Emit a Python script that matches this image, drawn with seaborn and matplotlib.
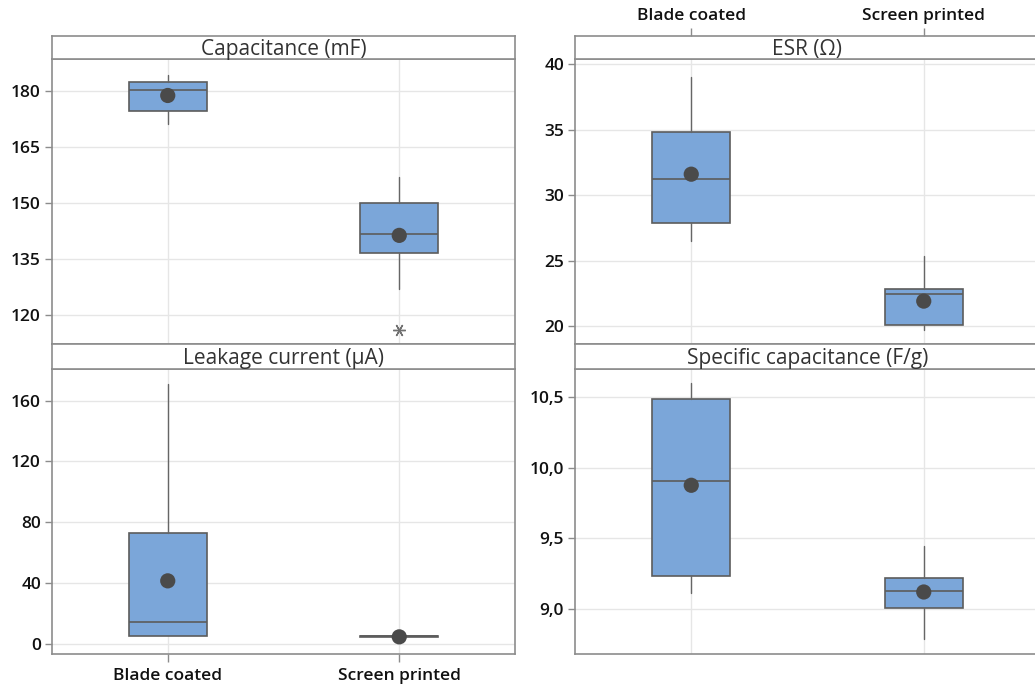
import matplotlib
matplotlib.use("Agg")
import matplotlib.pyplot as plt
import seaborn as sns
from matplotlib.ticker import FuncFormatter

sns.set_theme(style="white")
plt.rcParams["font.family"] = ["Open Sans", "DejaVu Sans"]

groups = ["Blade coated", "Screen printed"]

# Capacitance (mF)
cap_lo = [171.3, 127.0]
cap_q1 = [174.7, 136.8]
cap_med = [180.4, 141.8]
cap_q3 = [182.5, 150.0]
cap_hi = [184.5, 157.0]
cap_mean = [178.9, 141.4]
cap_out = [[], [116.0]]

# ESR (ohm)
esr_lo = [26.5, 19.7]
esr_q1 = [27.9, 20.1]
esr_med = [31.2, 22.45]
esr_q3 = [34.8, 22.86]
esr_hi = [39.0, 25.35]
esr_mean = [31.6, 21.9]
esr_out = [[], []]

# Leakage current (uA)
leak_lo = [5.0, 4.3]
leak_q1 = [5.0, 4.5]
leak_med = [13.9, 4.8]
leak_q3 = [72.9, 5.0]
leak_hi = [171.2, 5.1]
leak_mean = [41.3, 4.4]
leak_out = [[], []]

# Specific capacitance (F/g)
spec_lo = [9.11, 8.785]
spec_q1 = [9.235, 9.007]
spec_med = [9.905, 9.13]
spec_q3 = [10.49, 9.216]
spec_hi = [10.60, 9.448]
spec_mean = [9.877, 9.12]
spec_out = [[], []]

FILL = "#7BA6D9"
EDGE = "#5C5C5C"
DOT = "#4A4A4A"
GRID = "#E6E6E6"
FRAME = "#8C8C8C"
TXT = "#111111"
STRIP_TXT = "#333333"
WEIGHT = "semibold"

W, H = 1035, 684
fig = plt.figure(figsize=(W / 100, H / 100), dpi=100)


def px_box(x0, y0, x1, y1):
    return [x0 / W, 1 - y1 / H, (x1 - x0) / W, (y1 - y0) / H]


def panel(rect_data, rect_strip, title, lo, q1, med, q3, hi, mean, out,
          ylim, yticks, fmt=None, bottom_labels=False, top_labels=False):
    ax = fig.add_axes(rect_data)
    stats = []
    for i, g in enumerate(groups):
        stats.append(dict(label=g, whislo=lo[i], q1=q1[i], med=med[i],
                          q3=q3[i], whishi=hi[i], fliers=out[i], mean=mean[i]))
    ax.bxp(stats, positions=[0, 1], widths=0.335, patch_artist=True,
           showcaps=False, showfliers=True, showmeans=False,
           boxprops=dict(facecolor=FILL, edgecolor=EDGE, linewidth=1.2),
           medianprops=dict(color=EDGE, linewidth=1.2),
           whiskerprops=dict(color="#666666", linewidth=1.0),
           flierprops=dict(marker=(6, 2, 90), markersize=9,
                           markeredgecolor="#707070", markeredgewidth=1.0,
                           linestyle="none"),
           zorder=3)
    sns.scatterplot(x=[0, 1], y=mean, ax=ax, s=120, color=DOT,
                    edgecolor="none", zorder=5, legend=False)
    ax.set_xlim(-0.5, 1.5)
    ax.set_ylim(*ylim)
    ax.set_yticks(yticks)
    if fmt is not None:
        ax.yaxis.set_major_formatter(FuncFormatter(fmt))
    ax.set_xticks([0, 1])
    ax.grid(True, color=GRID, linewidth=1.0, zorder=0)
    ax.set_axisbelow(True)
    for s in ax.spines.values():
        s.set_color(FRAME)
        s.set_linewidth(1.2)
    ax.tick_params(axis="y", direction="out", length=5, width=1,
                   color=FRAME, labelsize=12.5, labelcolor=TXT, pad=3, left=True)
    for t in ax.get_yticklabels():
        t.set_fontweight(WEIGHT)
    if bottom_labels:
        ax.set_xticklabels(groups, fontweight=WEIGHT)
        ax.tick_params(axis="x", direction="out", length=6, width=1,
                       color=FRAME, labelsize=12.5, labelcolor=TXT, pad=4,
                       bottom=True)
    else:
        ax.tick_params(axis="x", bottom=False, labelbottom=False)
    ax.set_xlabel("")
    ax.set_ylabel("")

    # strip header above the panel
    st = fig.add_axes(rect_strip)
    st.set_xlim(-0.5, 1.5)
    st.set_ylim(0, 1)
    st.set_facecolor("white")
    for s in st.spines.values():
        s.set_color(FRAME)
        s.set_linewidth(1.2)
    st.set_yticks([])
    if top_labels:
        st.set_xticks([0, 1])
        st.set_xticklabels(groups, fontweight=WEIGHT)
        st.xaxis.tick_top()
        st.tick_params(axis="x", direction="out", length=6, width=1,
                       color=FRAME, labelsize=12.5, labelcolor=TXT, pad=3,
                       top=True, bottom=False)
    else:
        st.set_xticks([])
    st.text(0.5, 0.42, title, transform=st.transAxes, ha="center",
            va="center", fontsize=15, color=STRIP_TXT)
    return ax


comma = lambda v, p: f"{v:.1f}".replace(".", ",")

panel(px_box(52, 59.3, 515, 344.3), px_box(52, 36, 515, 59.3),
      "Capacitance (mF)", cap_lo, cap_q1, cap_med, cap_q3, cap_hi,
      cap_mean, cap_out, (112.2, 188.6), [120, 135, 150, 165, 180])

panel(px_box(575, 59.3, 1040, 344.3), px_box(575, 36, 1040, 59.3),
      "ESR (Ω)", esr_lo, esr_q1, esr_med, esr_q3, esr_hi,
      esr_mean, esr_out, (18.6, 40.38), [20, 25, 30, 35, 40],
      top_labels=True)

panel(px_box(52, 368.7, 515, 654.3), px_box(52, 344.3, 515, 368.7),
      "Leakage current (µA)", leak_lo, leak_q1, leak_med, leak_q3, leak_hi,
      leak_mean, leak_out, (-7.1, 181.1), [0, 40, 80, 120, 160],
      bottom_labels=True)

panel(px_box(575, 368.7, 1040, 654.3), px_box(575, 344.3, 1040, 368.7),
      "Specific capacitance (F/g)", spec_lo, spec_q1, spec_med, spec_q3,
      spec_hi, spec_mean, spec_out, (8.678, 10.704), [9.0, 9.5, 10.0, 10.5],
      fmt=comma)

fig.savefig("out.png", dpi=100)
